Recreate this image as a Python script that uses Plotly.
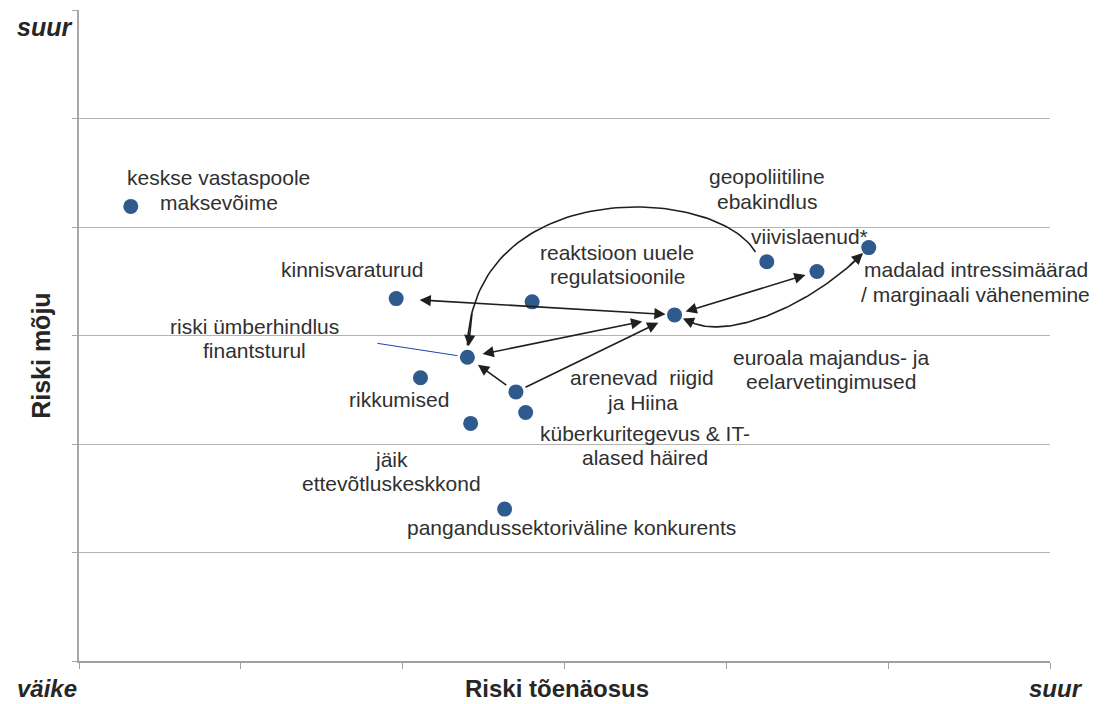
import numpy as np
import plotly.graph_objects as go

# risk map: x = probability, y = impact (0..6 scale)
risk_names = [
    "keskse vastaspoole<br>maksevõime",
    "kinnisvaraturud",
    "reaktsioon uuele<br>regulatsioonile",
    "euroala majandus- ja<br>eelarvetingimused",
    "geopoliitiline<br>ebakindlus",
    "viivislaenud*",
    "madalad intressimäärad<br>/ marginaali vähenemine",
    "riski ümberhindlus<br>finantsturul",
    "rikkumised",
    "arenevad&nbsp; riigid<br>ja Hiina",
    "küberkuritegevus & IT-<br>alased häired",
    "jäik<br>ettevõtluskeskkond",
    "pangandussektoriväline konkurents",
]
prob = [0.32, 1.96, 2.80, 3.68, 4.25, 4.56, 4.88, 2.40, 2.11, 2.70, 2.76, 2.42, 2.63]
impact = [4.19, 3.34, 3.31, 3.19, 3.68, 3.59, 3.81, 2.80, 2.61, 2.48, 2.29, 2.19, 1.40]

# label block centres (data coords)
label_x = [0.865, 1.687, 3.326, 4.648, 4.252, 4.512, 5.541, 1.082, 1.978, 3.480, 3.498, 1.934, 3.041]
label_y = [4.341, 3.604, 3.654, 2.687, 4.350, 3.908, 3.493, 2.972, 2.406, 2.498, 1.986, 1.747, 1.226]

# straight links: (from, to, both_ends, standoff_at_from, standoff_at_to)
links = [
    (1, 3, True, 22, 9),
    (7, 3, True, 14, 33),
    (9, 3, False, 9, 18),
    (9, 7, False, 10, 13),
    (3, 5, True, 10, 12),
]

DOT = "#2E5A8E"
INK = "#1f1f1f"
TXT = "#303030"
GRID = "#b4b4b4"

fig = go.Figure()


def bezier(p0, p1, p2, p3, t):
    t = np.asarray(t)[:, None]
    return ((1 - t) ** 3) * p0 + 3 * ((1 - t) ** 2) * t * p1 + 3 * (1 - t) * t ** 2 * p2 + t ** 3 * p3


def curve(a, b, start_off, c1_off, c2_off, end_off):
    pa = np.array([prob[a], impact[a]])
    pb = np.array([prob[b], impact[b]])
    p0 = pa + np.array(start_off)
    p3 = pb + np.array(end_off)
    p1 = p0 + np.array(c1_off)
    p2 = p3 + np.array(c2_off)
    return p0, p1, p2, p3


# geopoliitiline -> riski ümberhindlus
geo = curve(4, 7, (-0.07, 0.09), (-0.25, 0.62), (0.04, 1.56), (0.0, 0.11))
# euroala <-> madalad intressimäärad
eur = curve(3, 6, (0.07, -0.04), (0.22, -0.22), (-0.34, -0.50), (-0.04, -0.06))

ts = np.linspace(0, 1, 80)
for c in (geo, eur):
    pts = bezier(*c, ts)
    fig.add_trace(go.Scatter(x=pts[:, 0], y=pts[:, 1], mode="lines",
                             line=dict(color=INK, width=1.6),
                             hoverinfo="skip", showlegend=False))

fig.add_trace(go.Scatter(
    x=prob, y=impact, mode="markers",
    marker=dict(size=15, color=DOT),
    hoverinfo="skip", showlegend=False,
))

ann = []
arrow_style = dict(showarrow=True, arrowhead=2, arrowsize=1.4, arrowwidth=1.6,
                   arrowcolor=INK, axref="x", ayref="y", xref="x", yref="y", text="")

for a, b, both, sa, sb in links:
    ann.append(dict(x=prob[b], y=impact[b], ax=prob[a], ay=impact[a],
                    standoff=sb, startstandoff=sa,
                    arrowside="end+start" if both else "end", **arrow_style))

# arrowheads on curves
g_tail = bezier(*geo, [0.93])[0]
ann.append(dict(x=prob[7], y=impact[7], ax=g_tail[0], ay=g_tail[1],
                standoff=11, **arrow_style))
e_tail0 = bezier(*eur, [0.08])[0]
e_tail1 = bezier(*eur, [0.92])[0]
ann.append(dict(x=prob[3], y=impact[3], ax=e_tail0[0], ay=e_tail0[1],
                standoff=9, **arrow_style))
ann.append(dict(x=prob[6], y=impact[6], ax=e_tail1[0], ay=e_tail1[1],
                standoff=8, **arrow_style))

# blue leader line for "riski ümberhindlus"
ann.append(dict(x=prob[7], y=impact[7], ax=1.835, ay=2.93, xref="x", yref="y",
                axref="x", ayref="y", showarrow=True, arrowhead=0, arrowwidth=1,
                arrowcolor="#2244aa", standoff=10, text=""))

# labels, one annotation per line
LINE = 24.5
for name, lx, ly in zip(risk_names, label_x, label_y):
    lines = name.split("<br>")
    n = len(lines)
    for i, line in enumerate(lines):
        ann.append(dict(x=lx, y=ly, xref="x", yref="y", text=line, showarrow=False,
                        xanchor="center", yanchor="middle",
                        yshift=((n - 1) / 2 - i) * LINE,
                        font=dict(family="Liberation Sans, Arial", size=21, color=TXT)))

bold = dict(family="Liberation Sans, Arial", size=25, color="#262626")
bold_b = dict(family="Liberation Sans, Arial", size=24, color="#262626")
ann += [
    dict(x=0, y=0.974, xref="paper", yref="paper", text="<b><i>suur</i></b>",
         showarrow=False, xanchor="right", yanchor="middle", xshift=-5, font=bold),
    dict(x=0, y=-0.066, xref="paper", yref="paper", text="<b><i>väike</i></b>",
         showarrow=False, xanchor="right", yanchor="bottom", xshift=0, font=bold_b),
    dict(x=1.036, y=-0.066, xref="paper", yref="paper", text="<b><i>suur</i></b>",
         showarrow=False, xanchor="right", yanchor="bottom", font=bold_b),
    dict(x=0.492, y=-0.066, xref="paper", yref="paper", text="<b>Riski tõenäosus</b>",
         showarrow=False, xanchor="center", yanchor="bottom", font=bold_b),
    dict(x=-0.039, y=0.469, xref="paper", yref="paper", text="<b>Riski mõju</b>",
         showarrow=False, xanchor="center", yanchor="middle", textangle=-90, font=bold),
]

fig.update_layout(
    width=1107, height=704,
    margin=dict(l=79, r=57, t=10, b=43),
    plot_bgcolor="white", paper_bgcolor="white",
    annotations=ann,
    showlegend=False,
)
fig.update_xaxes(range=[0, 6], dtick=1, showticklabels=False, showgrid=False,
                 zeroline=False, showline=True, linecolor="#a0a0a0", linewidth=2,
                 ticks="outside", ticklen=6, tickcolor="#a0a0a0", fixedrange=True)
fig.update_yaxes(range=[0, 6], dtick=1, showticklabels=False, showgrid=True,
                 gridcolor=GRID, gridwidth=1.2, zeroline=False, showline=True,
                 linecolor="#a8a8a8", linewidth=1.5, ticks="outside", ticklen=5,
                 tickcolor="#a8a8a8", fixedrange=True)

fig.write_html("out.html", config={"displayModeBar": False},
               post_script="document.body.style.margin='0';document.body.style.overflow='hidden';")
